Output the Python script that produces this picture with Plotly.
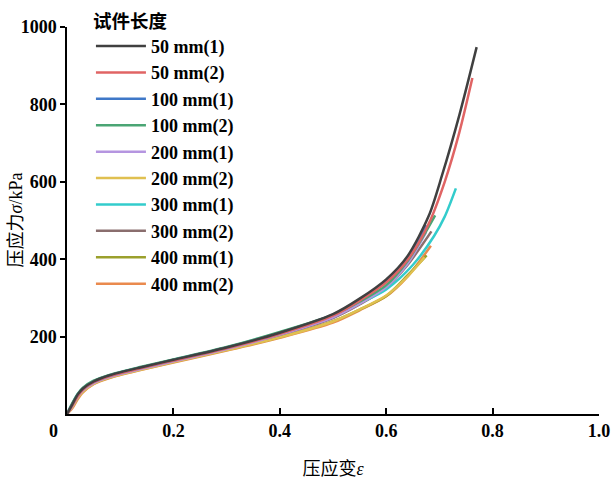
import plotly.graph_objects as go

names = ["50 mm(1)", "50 mm(2)", "100 mm(1)", "100 mm(2)", "200 mm(1)",
         "200 mm(2)", "300 mm(1)", "300 mm(2)", "400 mm(1)", "400 mm(2)"]
colors = ["#404040", "#e06464", "#3f78c8", "#4aa574", "#b595e0",
          "#e0c050", "#33cccc", "#8a6e6e", "#9ba02c", "#ea8a4e"]

base_x = [0, 0.01, 0.02, 0.03, 0.05, 0.08, 0.14, 0.2, 0.3, 0.4, 0.5, 0.55, 0.6]

x_50_1 = base_x + [0.64, 0.68, 0.705, 0.738, 0.77]
y_50_1 = [0, 25, 50, 66, 84, 100, 121, 140, 172, 210, 258, 298, 348, 408, 512, 617, 775, 948]
x_50_2 = base_x + [0.64, 0.68, 0.71, 0.737, 0.762]
y_50_2 = [0, 22, 46, 63, 82, 98, 119, 138, 170, 207, 254, 293, 340, 398, 492, 600, 725, 868]
x_100_1 = base_x + [0.64, 0.675]
y_100_1 = [0, 24, 49, 65, 83, 99, 120, 139, 171, 209, 257, 295, 343, 402, 488]
x_100_2 = base_x + [0.64, 0.67, 0.692]
y_100_2 = [0, 28, 52, 68, 86, 101, 122, 141, 173, 212, 256, 290, 333, 395, 460, 513]
x_200_1 = base_x + [0.64, 0.675]
y_200_1 = [0, 20, 44, 61, 80, 96, 117, 136, 168, 205, 250, 285, 328, 388, 470]
x_200_2 = base_x + [0.64, 0.672]
y_200_2 = [0, 18, 41, 58, 78, 94, 115, 134, 165, 198, 239, 270, 306, 355, 405]
x_300_1 = base_x + [0.65, 0.69, 0.71, 0.731]
y_300_1 = [0, 27, 51, 67, 85, 100, 121, 140, 172, 211, 254, 286, 322, 385, 460, 510, 583]
x_300_2 = base_x + [0.64, 0.685]
y_300_2 = [0, 21, 45, 62, 81, 97, 118, 137, 169, 204, 248, 283, 326, 385, 472]
x_400_1 = base_x + [0.64, 0.676]
y_400_1 = [0, 19, 42, 59, 79, 95, 116, 135, 166, 199, 240, 270, 305, 358, 410]
x_400_2 = base_x + [0.64, 0.684]
y_400_2 = [0, 15, 38, 56, 77, 93, 114, 133, 164, 197, 236, 268, 304, 355, 435]

xs = [x_50_1, x_50_2, x_100_1, x_100_2, x_200_1, x_200_2, x_300_1, x_300_2, x_400_1, x_400_2]
ys = [y_50_1, y_50_2, y_100_1, y_100_2, y_200_1, y_200_2, y_300_1, y_300_2, y_400_1, y_400_2]

x_ticks = [0.2, 0.4, 0.6, 0.8, 1.0]
x_tick_text = ["0.2", "0.4", "0.6", "0.8", "1.0"]
y_ticks = [200, 400, 600, 800, 1000]

SERIF = "Liberation Serif, Noto Sans CJK SC"

fig = go.Figure()
for i in reversed(range(len(names))):
    fig.add_trace(go.Scatter(
        x=xs[i], y=ys[i], mode="lines", name=names[i],
        line=dict(color=colors[i], width=2.5, shape="spline", smoothing=0.8),
        legendrank=i + 1, legendgroup=names[i],
    ))

fig.update_layout(
    width=613, height=484,
    margin=dict(l=67, r=14, t=27, b=70, autoexpand=False),
    plot_bgcolor="white", paper_bgcolor="white",
    font=dict(family=SERIF, color="black"),
    showlegend=True,
    legend=dict(
        x=0.045, y=1.06, xanchor="left", yanchor="top",
        bgcolor="rgba(0,0,0,0)",
        font=dict(family=SERIF, size=18, weight="bold"),
        title=dict(text="试件长度", font=dict(family="Noto Sans CJK SC", size=18.5, weight="bold")),
        itemwidth=50, tracegroupgap=0, maxheight=480,
    ),
    xaxis=dict(
        range=[0, 1], tickvals=x_ticks, ticktext=x_tick_text, automargin=False,
        ticks="inside", ticklen=6, tickwidth=1.5, tickcolor="black",
        showline=True, linecolor="black", linewidth=1.5,
        showgrid=False, zeroline=False,
        tickfont=dict(family=SERIF, size=18, weight="bold"),
        title=dict(text="压应变<i>ε</i>", font=dict(family=SERIF, size=18), standoff=22),
    ),
    yaxis=dict(
        range=[0, 1000], tickvals=y_ticks, automargin=False,
        ticks="outside", ticklen=5, tickwidth=1.5, tickcolor="black",
        showline=True, linecolor="black", linewidth=1.5,
        showgrid=False, zeroline=False,
        tickfont=dict(family=SERIF, size=18, weight="bold"),
    ),
    annotations=[
        dict(text="0", xref="paper", yref="paper", x=-0.025, y=0,
             xanchor="center", yanchor="middle", yshift=-17,
             showarrow=False, font=dict(family=SERIF, size=18, weight="bold")),
        dict(text="压应力<i>σ</i>/kPa", xref="paper", yref="paper", x=0, y=0.5,
             xanchor="center", yanchor="middle", xshift=-52, textangle=-90,
             showarrow=False, font=dict(family=SERIF, size=18)),
    ],
)

fig.write_html("out.html", config={"displayModeBar": False},
               post_script="document.body.style.margin='0';")
